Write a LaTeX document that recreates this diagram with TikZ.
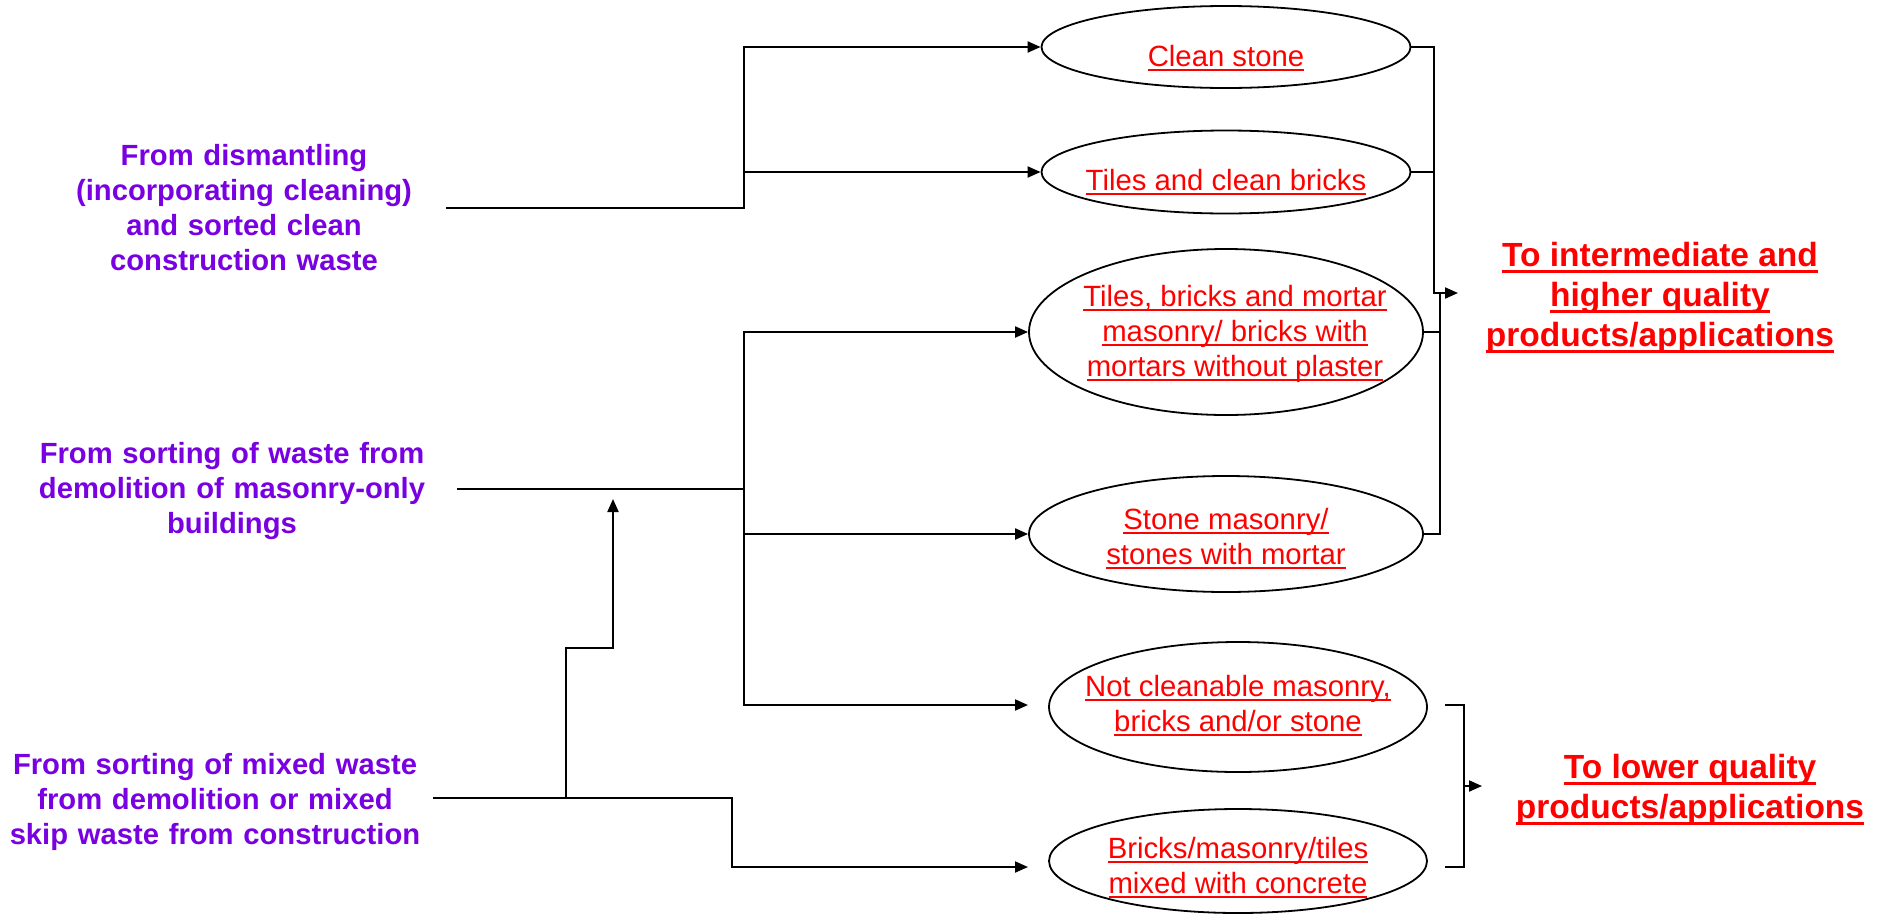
\documentclass[tikz,border=0pt]{standalone}
\usepackage{fontspec}
\setmainfont{Liberation Sans}
\usetikzlibrary{arrows.meta,shapes.geometric}

\definecolor{srcpurple}{RGB}{120,0,225}
\definecolor{prodred}{RGB}{255,0,0}

% underlined line of text: a rule of given offset and thickness under the box
\newcommand{\underrule}[3]{\setbox0=\hbox{#3}%
  \rlap{\vrule height -#1 depth \dimexpr#1+#2\relax width \wd0}\box0}
\newcommand{\prodline}[1]{\underrule{2.5pt}{2pt}{#1}}
\newcommand{\goalline}[1]{\underrule{3pt}{3.5pt}{#1}}

\begin{document}
\begin{tikzpicture}[x=1pt,y=-1pt,
  wire/.style={line width=2pt, line cap=rect},
  feed/.style={line width=2pt, -{Triangle[length=13pt,width=11pt]}},
  bin/.style={ellipse, draw, line width=1.8pt, inner sep=0pt},
  prodtext/.style={text=prodred, align=center, inner sep=0pt,
    font=\fontsize{29.3}{35}\selectfont},
  srctext/.style={text=srcpurple, align=center, inner sep=0pt,
    font=\bfseries\fontsize{29.2}{35}\selectfont},
  goaltext/.style={text=prodred, align=center, inner sep=0pt,
    font=\bfseries\fontsize{33.5}{40}\selectfont}]

\useasboundingbox (0,0) rectangle (1878,916);

% material streams
\node[bin, minimum width=369pt, minimum height=82pt]  (e1) at (1226,47)  {};
\node[bin, minimum width=369pt, minimum height=83pt]  (e2) at (1226,172) {};
\node[bin, minimum width=394pt, minimum height=166pt] (e3) at (1226,332) {};
\node[bin, minimum width=394pt, minimum height=116pt] (e4) at (1226,534) {};
\node[bin, minimum width=378pt, minimum height=130pt] (e5) at (1238,707) {};
\node[bin, minimum width=378pt, minimum height=104pt] (e6) at (1238,861) {};

\node[prodtext] (t1) at (1226,58.5) {\prodline{Clean stone}};
\node[prodtext] (t2) at (1226,182.5) {\prodline{Tiles and clean bricks}};
\node[prodtext] (t3) at (1235,334) {\prodline{Tiles, bricks and mortar}\\
  \prodline{masonry/ bricks with}\\\prodline{mortars without plaster}};
\node[prodtext] (t4) at (1226,539) {\prodline{Stone masonry/}\\\prodline{stones with mortar}};
\node[prodtext] (t5) at (1238,706) {\prodline{Not cleanable masonry,}\\\prodline{bricks and/or stone}};
\node[prodtext] (t6) at (1238,868) {\prodline{Bricks/masonry/tiles}\\\prodline{mixed with concrete}};

% sources
\node[srctext, text width=406pt] (s1) at (244,208)
  {From dismantling\\(incorporating cleaning)\\and sorted clean\\construction waste};
\node[srctext, text width=452pt] (s2) at (232,491.5)
  {From sorting of waste from\\demolition of masonry-only\\buildings};
\node[srctext, text width=438pt] (s3) at (215,802)
  {From sorting of mixed waste\\from demolition or mixed\\skip waste from construction};

% destinations
\node[goaltext] (g1) at (1660,298) {\goalline{To intermediate and}\\
  \goalline{higher quality}\\\goalline{products/applications}};
\node[goaltext] (g2) at (1690,790) {\goalline{To lower quality}\\\goalline{products/applications}};

% junction points
\coordinate (k1) at (744,208);
\coordinate (k2) at (744,489);
\coordinate (k3) at (732,798);
\coordinate (a5) at (1028,705);
\coordinate (a6) at (1028,867);
\coordinate (u1) at (566,798);
\coordinate (u2) at (613,499);
\coordinate (c1) at (1434,293);
\coordinate (c2) at (1440,293);
\coordinate (hi) at (1458,293);
\coordinate (b1) at (1446,705);
\coordinate (bm) at (1464,786);
\coordinate (b2) at (1446,867);
\coordinate (lo) at (1482,786);

% dismantling branch
\draw[wire] (s1.east) -- (k1);
\draw[feed] (k1) |- (e1.west);
\draw[feed] (k1 |- e2.west) -- (e2.west);

% masonry-only demolition branch
\draw[wire] (s2.east |- k2) -- (k2);
\draw[wire] (k2 |- e3.west) -- (k2 |- a5);
\draw[feed] (k2 |- e3.west) -- (e3.west);
\draw[feed] (k2 |- e4.west) -- (e4.west);
\draw[feed] (k2 |- a5) -- (a5);

% mixed waste branch
\draw[wire] (s3.east |- k3) -- (k3);
\draw[feed] (k3) |- (a6);
\draw[feed] (u1) -- ++(0,-150) -| (u2);

% towards higher quality uses
\draw[wire] (e1.east) -| (c1);
\draw[wire] (e2.east) -- (c1 |- e2.east);
\draw[feed] (c1) -- (hi);
\draw[wire] (e4.east) -| (c2);
\draw[wire] (e3.east) -- (c2 |- e3.east);

% towards lower quality uses
\draw[wire] (b1) -| (bm) |- (b2);
\draw[feed] (bm) -- (lo);

\end{tikzpicture}
\end{document}
